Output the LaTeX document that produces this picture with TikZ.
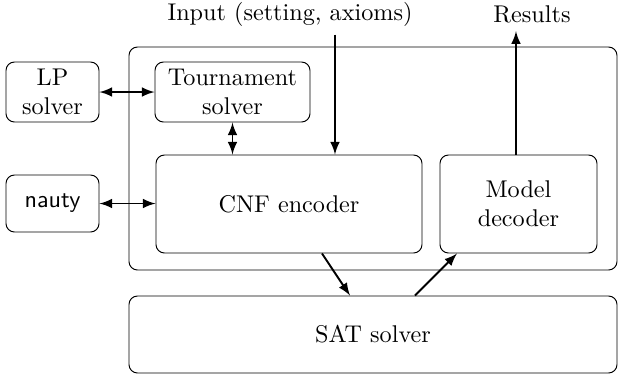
\documentclass[tikz,border=0pt]{standalone}
\usepackage{tikz}
\usetikzlibrary{arrows,shapes}
\usetikzlibrary{calc}
\usetikzlibrary{positioning}

\begin{document}
\begin{tikzpicture}[x=0.4133pt, y=-0.4133pt, >=latex,
    box/.style={draw, rounded corners=3.5pt, align=center, inner sep=0pt},
    link/.style={thick}]

	\def\u{0.4133pt};
	\useasboundingbox (0,0) rectangle (619,379);

	%outer frame and solvers
	\node[box, minimum width=488*\u, minimum height=223*\u] (frame) at (373,158.5) {};
	\node[box, minimum width=488*\u, minimum height=77*\u] (sat) at (373,334.5) {SAT solver};

	\foreach \x/\y/\w/\h/\txt/\name in {52.5/92/93/60/LP\\solver/lp, 232.5/92/155/60/Tournament\\solver/tour, 52.5/203.5/93/57/\textsf{nauty}/nauty, 289/204/266/98/CNF encoder/cnf, 518.5/204/157/98/Model\\decoder/model}{
		\node[box, minimum width=\w*\u, minimum height=\h*\u] (\name) at (\x,\y) {\txt};
	}

	%texts
	\node (input) at (290,14) {Input (setting, axioms)};
	\node (res) at (532,14) {Results};

	%arrows
	\draw[link,<->] (lp) -- (tour);
	\draw[link,<->] (nauty) -- (nauty -| cnf.west);
	\draw[link,<->] (tour) -- (tour |- cnf.north);
	\draw[link,->] ([xshift=45*\u]input.south) -- ([xshift=45*\u]input.south |- cnf.north);
	\draw[link,->] ([xshift=-2.5*\u]model.north) -- ([xshift=-2.5*\u]model.north |- res.south);
	\draw[link,->] ([xshift=33*\u]cnf.south) -- ([xshift=-23*\u]sat.north);
	\draw[link,->] ([xshift=42*\u]sat.north) -- ([xshift=-61.5*\u]model.south);

\end{tikzpicture}
\end{document}
